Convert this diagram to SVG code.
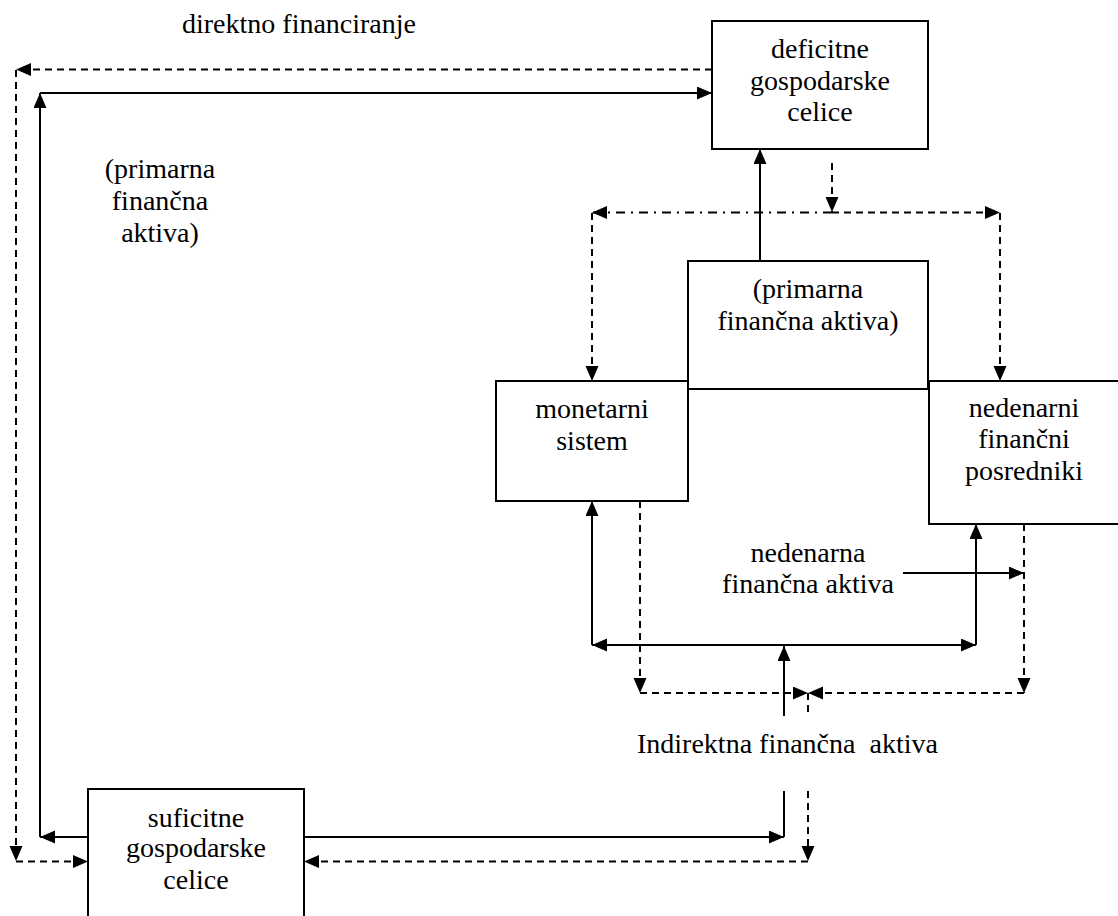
<svg xmlns="http://www.w3.org/2000/svg" width="1118" height="916" viewBox="0 0 1118 916">
<style>
.box{fill:#fff;stroke:#000;stroke-width:2}
.s{fill:none;stroke:#000;stroke-width:2}
.d{fill:none;stroke:#000;stroke-width:2;stroke-dasharray:7 5}
.dd{fill:none;stroke:#000;stroke-width:2;stroke-dasharray:9 6 2 6}
text{font-family:'Liberation Serif','DejaVu Serif',serif;font-size:28px;fill:#000}
.c{text-anchor:middle}
</style>
<defs>
<marker id="a" markerUnits="userSpaceOnUse" markerWidth="16" markerHeight="14" refX="15" refY="6.5" orient="auto-start-reverse" viewBox="0 0 16 14">
<path d="M0,0 L15,6.5 L0,13 Z" fill="#000"/>
</marker>
</defs>
<rect width="1118" height="916" fill="#fff"/>
<g id="connectors">
<path class="d" d="M712,69.5 L16,69.5" marker-end="url(#a)"/>
<path class="d" d="M16,70 L16,861" marker-end="url(#a)"/>
<path class="d" d="M16,861.5 L88,861.5" marker-end="url(#a)"/>
<path class="s" d="M88,837 L40,837" marker-end="url(#a)"/>
<path class="s" d="M40,837 L40,93" marker-end="url(#a)"/>
<path class="s" d="M40,93 L712,93" marker-end="url(#a)"/>
<path class="s" d="M760,261 L760,149" marker-end="url(#a)"/>
<path class="d" d="M832,163 L832,212" marker-end="url(#a)"/>
<path class="dd" d="M832,212.5 L592,212.5" marker-end="url(#a)"/>
<path class="d" d="M832,212.5 L1000,212.5" marker-end="url(#a)"/>
<path class="d" d="M592,213 L592,381" marker-end="url(#a)"/>
<path class="d" d="M1000,213 L1000,381" marker-end="url(#a)"/>
<path class="s" d="M592,645 L592,501" marker-end="url(#a)"/>
<path class="s" d="M592,645 L976,645" marker-start="url(#a)" marker-end="url(#a)"/>
<path class="s" d="M976,645 L976,524" marker-end="url(#a)"/>
<path class="s" d="M784,716 L784,646" marker-end="url(#a)"/>
<path class="d" d="M640,501 L640,693" marker-end="url(#a)"/>
<path class="d" d="M640,693 L808,693" marker-end="url(#a)"/>
<path class="d" d="M1024,693 L808,693" marker-end="url(#a)"/>
<path class="d" d="M1024,524 L1024,693" marker-end="url(#a)"/>
<path class="s" d="M903,573 L1024,573" marker-end="url(#a)"/>
<path class="d" d="M808,693 L808,716"/>
<path class="s" d="M784,791 L784,837"/>
<path class="s" d="M304,837 L784,837" marker-end="url(#a)"/>
<path class="d" d="M808,791 L808,861" marker-end="url(#a)"/>
<path class="d" d="M808,861.5 L304,861.5" marker-end="url(#a)"/>
</g>
<g id="label-direktno" font-family="Liberation Serif, DejaVu Serif, serif">
<text x="182" y="33">direktno financiranje</text>
</g>
<g id="label-primarna-left">
<text class="c" x="160" y="178">(primarna</text>
<text class="c" x="160" y="210">finančna</text>
<text class="c" x="160" y="242">aktiva)</text>
</g>
<g id="node-deficitne">
<rect class="box" x="712" y="21" width="216" height="128"/>
<text class="c" x="820" y="58">deficitne</text>
<text class="c" x="820" y="90">gospodarske</text>
<text class="c" x="820" y="121">celice</text>
</g>
<g id="node-monetarni">
<rect class="box" x="496" y="381" width="192" height="120"/>
<text class="c" x="592" y="418">monetarni</text>
<text class="c" x="592" y="450">sistem</text>
</g>
<g id="node-primarna">
<rect class="box" x="688" y="261" width="240" height="128"/>
<text class="c" x="808" y="298">(primarna</text>
<text class="c" x="808" y="330">finančna aktiva)</text>
</g>
<g id="node-nedenarni">
<rect class="box" x="929" y="381" width="200" height="143"/>
<text class="c" x="1024" y="417">nedenarni</text>
<text class="c" x="1024" y="448">finančni</text>
<text class="c" x="1024" y="480">posredniki</text>
</g>
<g id="label-nedenarna">
<text class="c" x="808" y="562">nedenarna</text>
<text class="c" x="808" y="593">finančna aktiva</text>
</g>
<g id="label-indirektna">
<text x="637" y="753" xml:space="preserve">Indirektna finančna  aktiva</text>
</g>
<g id="node-suficitne">
<rect class="box" x="88" y="789" width="216" height="140"/>
<text class="c" x="196" y="827">suficitne</text>
<text class="c" x="196" y="857">gospodarske</text>
<text class="c" x="196" y="889">celice</text>
</g>
</svg>
